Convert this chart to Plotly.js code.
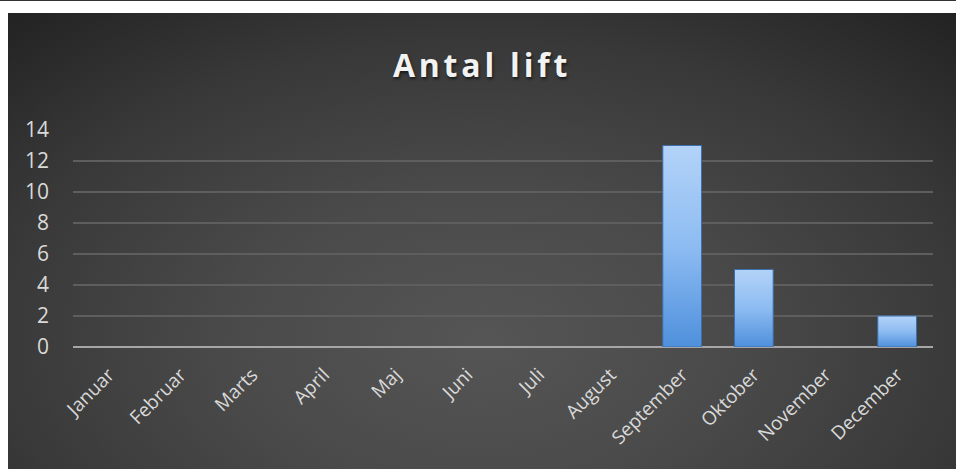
<!DOCTYPE html>
<html>
<head>
<meta charset="utf-8">
<script src="https://cdn.plot.ly/plotly-3.0.1.min.js"></script>
<style>
html,body{margin:0;padding:0;background:#fff;width:956px;height:469px;overflow:hidden;}
#topline{position:absolute;left:0;top:0;width:956px;height:1px;background:#333;}
#chart{position:absolute;left:8px;top:13px;width:948px;height:456px;
  background:radial-gradient(ellipse 75% 95% at 50% 72%, #555555 0%, #4a4a4a 35%, #383838 70%, #232323 100%);}
.gtitle{letter-spacing:3.8px;text-shadow:1px 2px 3px rgba(0,0,0,0.6);}
</style>
</head>
<body>
<div id="topline"></div>
<div id="chart"></div>
<script>
const titleText = "Antal lift";
const months = ["Januar","Februar","Marts","April","Maj","Juni","Juli","August","September","Oktober","November","December"];
const lifts = [0,0,0,0,0,0,0,0,13,5,0,2];
const yTicks = [0,2,4,6,8,10,12,14];

const trace = {
  type:"bar", x:months, y:lifts,
  marker:{color:"#7fb0ec", line:{color:"#3d6fae", width:lifts.map(v=>v===0?0:1)}},
  hoverinfo:"skip"
};
const layout = {
  width:948, height:456,
  paper_bgcolor:"rgba(0,0,0,0)", plot_bgcolor:"rgba(0,0,0,0)",
  margin:{l:65, r:23, t:117, b:122},
  bargap:0.46,
  showlegend:false,
  title:{text:"<b>"+titleText+"</b>", x:0.5, xanchor:"center", y:1-53/456, yanchor:"middle",
    font:{family:"Open Sans", size:32, color:"#f2f2f2"}},
  xaxis:{type:"category", tickangle:-45, showgrid:false, showline:false, zeroline:false,
    ticks:"", tickfont:{family:"Open Sans", size:19, color:"#d9d9d9"}, ticklabelstandoff:12, fixedrange:true},
  yaxis:{range:[0,14], tickvals:yTicks, ticktext:yTicks.map(String), showgrid:true, gridcolor:"#5e5e5e", gridwidth:1.5,
    zeroline:true, zerolinecolor:"#a6a6a6", zerolinewidth:2.5, showline:false, ticks:"",
    tickfont:{family:"Open Sans", size:21, color:"#d9d9d9"}, ticklabelstandoff:23, fixedrange:true}
};
Plotly.newPlot("chart",[trace],layout,{displayModeBar:false, staticPlot:true}).then(gd=>{
  const svg = gd.querySelector("svg.main-svg");
  const ns = "http://www.w3.org/2000/svg";
  let defs = svg.querySelector("defs");
  const lg = document.createElementNS(ns,"linearGradient");
  lg.setAttribute("id","barGrad"); lg.setAttribute("x1","0"); lg.setAttribute("y1","0"); lg.setAttribute("x2","0"); lg.setAttribute("y2","1");
  [["0%","#b3d3f8"],["50%","#8dbcf2"],["100%","#4f90dc"]].forEach(([o,c])=>{
    const s=document.createElementNS(ns,"stop"); s.setAttribute("offset",o); s.setAttribute("stop-color",c); lg.appendChild(s);
  });
  defs.appendChild(lg);
  gd.querySelectorAll(".bars .point path").forEach(p=>{ p.style.fill="url(#barGrad)"; });
});
</script>
</body>
</html>
